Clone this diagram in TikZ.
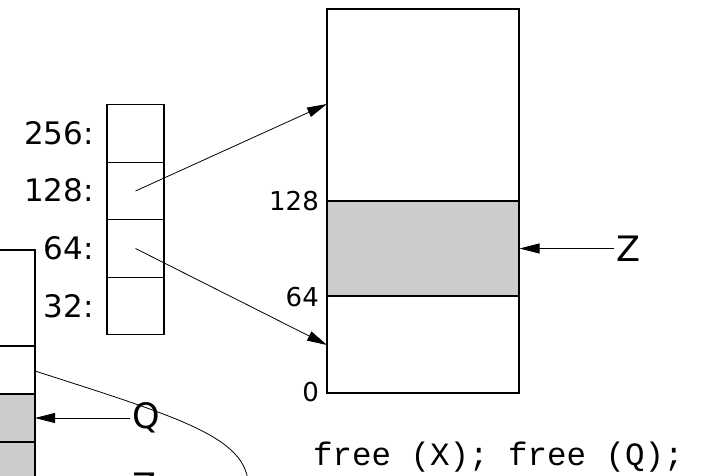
\documentclass[tikz,border=0pt]{standalone}
\usepackage{fontspec}
\setmainfont{DejaVu Sans}
\setmonofont{Liberation Mono}
\usetikzlibrary{arrows.meta}
\begin{document}
\begin{tikzpicture}[x=1pt,y=-1pt,
  cell/.style={draw=black, line width=1.1pt, minimum width=57pt, minimum height=57.5pt, inner sep=0pt},
  ptr/.style={-{Triangle[length=20pt,width=10pt]}, line width=0.8pt},
  lab/.style={font=\fontsize{31}{31}\selectfont, anchor=east, inner sep=0pt},
  blab/.style={font=\fontsize{26}{26}\selectfont, anchor=east, inner sep=0pt},
  big/.style={font=\fontsize{35}{35}\selectfont, inner sep=2pt},
  frame/.style={draw=black, line width=1.1pt},
  shade/.style={fill=black!20}
]
\useasboundingbox (0,0) rectangle (701,476);
\clip (0,0) rectangle (701,476);

% free-list table
\node[cell] (c256) at (135.5,133.5) {};
\node[cell] (c128) at (135.5,191) {};
\node[cell] (c64)  at (135.5,248.5) {};
\node[cell] (c32)  at (135.5,306) {};
\node[lab] (l256) at (94,133) {256:};
\node[lab] (l128) at (94,190) {128:};
\node[lab] (l64)  at (94,248) {64:};
\node[lab] (l32)  at (94,306) {32:};

% main memory block
\node[frame, minimum width=192pt, minimum height=384pt, inner sep=0pt] (blk) at (423,201) {};
\node[frame, shade, minimum width=192pt, minimum height=95pt, inner sep=0pt] (band) at (423,248.5) {};
\node[blab] (n128) at (319,201) {128};
\node[blab] (n64)  at (319,297) {64};
\node[blab] (n0)   at (319,392) {0};
\coordinate (t1) at (327,104);
\coordinate (t2) at (327,345);
\draw[ptr] (c128.center) -- (t1);
\draw[ptr] (c64.center) -- (t2);

\node[big, anchor=west] (Z) at (614,248.5) {Z};
\draw[ptr] (Z.west) -- (band.east);

% left block (partly cut off)
\fill[shade] (-5,394) rectangle (35,490);
\draw[frame] (-5,250) -- (35,250) -- (35,490);
\draw[frame] (-5,346) -- (35,346);
\draw[frame] (-5,394) -- (35,394);
\draw[frame] (-5,442) -- (35,442);
\coordinate (qt) at (35,418);
\coordinate (cs) at (35,371);
\coordinate (ce) at (246,505);
\node[big, anchor=west] (Q) at (130,418) {Q};
\draw[ptr] (Q.west) -- (qt);
\draw[line width=0.8pt] (cs) .. controls (200,424) and (262,442) .. (ce);
\node[big, anchor=north, inner sep=0pt] (Z2) at (144,473) {Z};

\node[font=\fontsize{32.5}{32.5}\ttfamily, anchor=base west, inner sep=0pt] (code) at (313,465) {free (X); free (Q);};
\end{tikzpicture}
\end{document}
